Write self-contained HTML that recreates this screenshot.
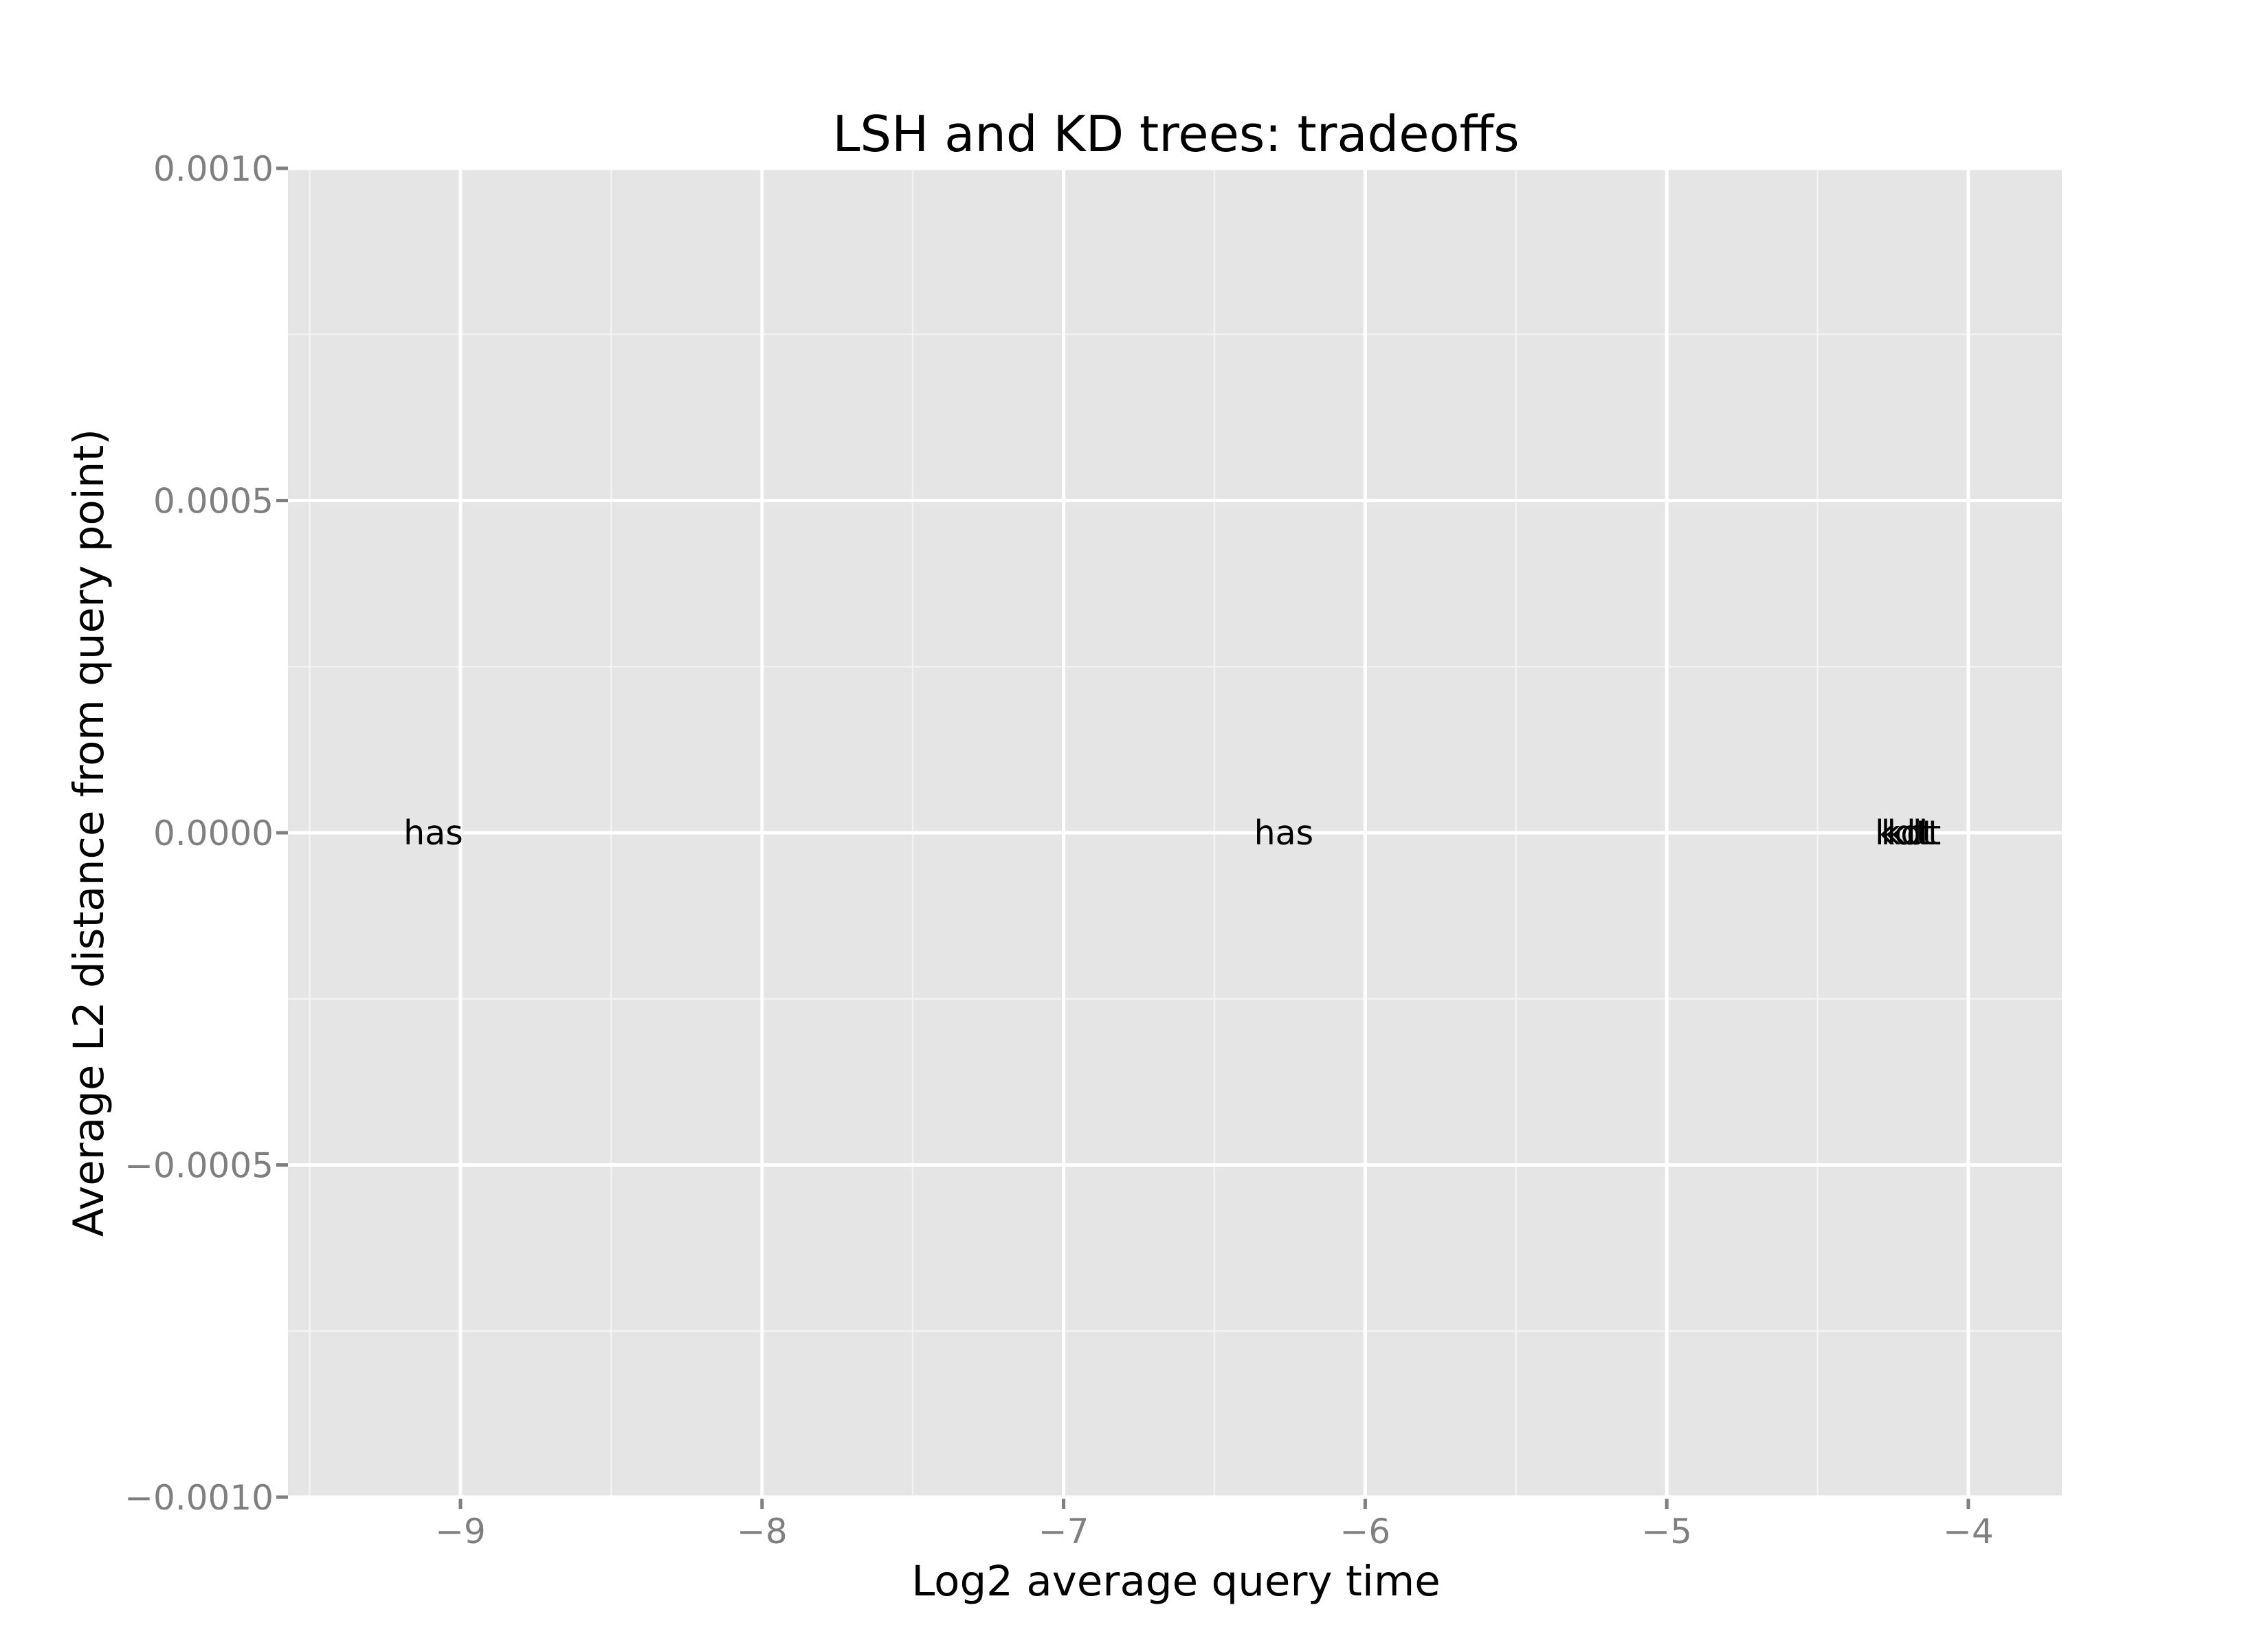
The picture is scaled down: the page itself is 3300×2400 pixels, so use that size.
<!DOCTYPE html>
<html><head><meta charset="utf-8"><style>
html,body{margin:0;padding:0;background:#fff;}
svg{display:block;font-family:"DejaVu Sans","Liberation Sans",sans-serif;}
</style></head><body>
<svg id="chart" width="3300" height="2400" viewBox="0 0 3300 2400" xmlns="http://www.w3.org/2000/svg"></svg>
<script>
const labelTexts = ["has", "has", "kdt", "kdt", "kdt"];
const xValues = [-9.09, -6.27, -4.22, -4.20, -4.18];
const yValues = [0, 0, 0, 0, 0];
const xTicks = [-9, -8, -7, -6, -5, -4];
const xTickLabels = ["\u22129", "\u22128", "\u22127", "\u22126", "\u22125", "\u22124"];
const yTicks = [0.001, 0.0005, 0, -0.0005, -0.001];
const yTickLabels = ["0.0010", "0.0005", "0.0000", "\u22120.0005", "\u22120.0010"];

const L = 419, R = 3000, T = 245, B = 2179;
const xMin = -9.572, xMax = -3.69, yMin = -0.001, yMax = 0.001;
const sx = v => L + (v - xMin) / (xMax - xMin) * (R - L);
const sy = v => B - (v - yMin) / (yMax - yMin) * (B - T);
const svg = document.getElementById('chart');
const NS = 'http://www.w3.org/2000/svg';
function mk(tag, attrs, parent) {
  const e = document.createElementNS(NS, tag);
  for (const k in attrs) e.setAttribute(k, attrs[k]);
  (parent || svg).appendChild(e);
  return e;
}
let e;
e = mk('rect', {x: L, y: T, width: R - L, height: B - T, fill: '#e5e5e5'});


for (let i = 0; i < xTicks.length + 1; i++) {
  const v = xTicks[0] - 0.5 + i;
  if (v < xMin || v > xMax) continue;
  e = mk('line', {x1: sx(v), x2: sx(v), y1: T, y2: B, stroke: '#f2f2f2', 'stroke-width': 2.5});
  
  
}
for (let i = 0; i < yTicks.length - 1; i++) {
  const v = (yTicks[i] + yTicks[i + 1]) / 2;
  e = mk('line', {x1: L, x2: R, y1: sy(v), y2: sy(v), stroke: '#f2f2f2', 'stroke-width': 2.5});
  
  
}
xTicks.forEach((v, i) => {
  e = mk('line', {x1: sx(v), x2: sx(v), y1: T, y2: B, stroke: '#fff', 'stroke-width': 5});
  
  
  e = mk('line', {x1: sx(v), x2: sx(v), y1: B, y2: B + 17, stroke: '#7f7f7f', 'stroke-width': 5});
  
  
  e = mk('text', {x: sx(v), y: 2246, 'text-anchor': 'middle', 'font-size': 50, fill: '#7f7f7f'});
  e.textContent = xTickLabels[i];
  
  
});
yTicks.forEach((v, i) => {
  e = mk('line', {x1: L, x2: R, y1: sy(v), y2: sy(v), stroke: '#fff', 'stroke-width': 5});
  
  
  e = mk('line', {x1: L - 17, x2: L, y1: sy(v), y2: sy(v), stroke: '#7f7f7f', 'stroke-width': 5});
  
  
  e = mk('text', {x: 398, y: sy(v) + 18, 'text-anchor': 'end', 'font-size': 50, fill: '#7f7f7f'});
  e.textContent = yTickLabels[i];
  
  
});
labelTexts.forEach((t, i) => {
  e = mk('text', {x: sx(xValues[i]), y: sy(yValues[i]) + 17, 'text-anchor': 'middle', 'font-size': 49, fill: '#000'});
  e.textContent = t;
  
  
});
e = mk('text', {x: 1711, y: 220, 'text-anchor': 'middle', 'font-size': 72, fill: '#000'});
e.textContent = 'LSH and KD trees: tradeoffs';


e = mk('text', {x: 1711, y: 2322, 'text-anchor': 'middle', 'font-size': 61, fill: '#000'});
e.textContent = 'Log2 average query time';


e = mk('text', {x: 0, y: 0, 'text-anchor': 'middle', 'font-size': 61, fill: '#000', transform: 'translate(150,1212) rotate(-90)'});
e.textContent = 'Average L2 distance from query point)';


</script>
</body></html>
